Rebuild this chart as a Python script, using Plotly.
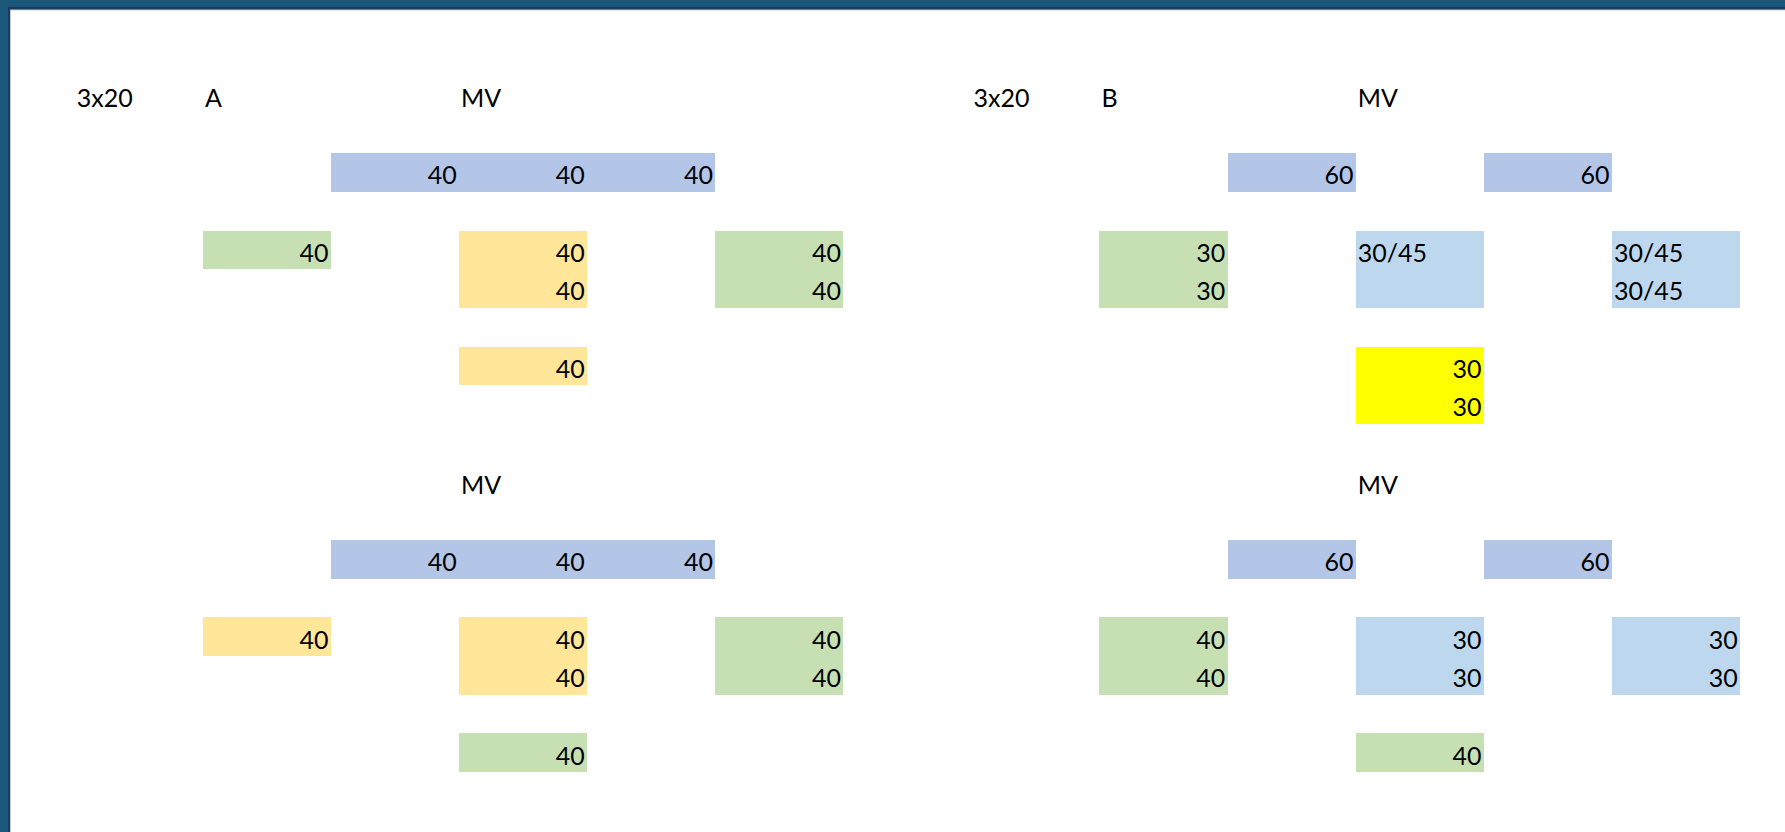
import plotly.graph_objects as go

# ---------------- data (grid of a spreadsheet: column index, row index) ----------------
# filled blocks: column, row, number of columns, number of rows, fill kind
fill_col   = [2, 1, 3, 5, 3,   2, 1, 3, 5, 3,   9, 11, 8, 10, 12, 10,   9, 11, 8, 10, 12, 10]
fill_row   = [4, 6, 6, 6, 9,  14, 16, 16, 16, 19,  4, 4, 6, 6, 6, 9,   14, 14, 16, 16, 16, 19]
fill_ncols = [3, 1, 1, 1, 1,   3, 1, 1, 1, 1,   1, 1, 1, 1, 1, 1,   1, 1, 1, 1, 1, 1]
fill_nrows = [1, 1, 2, 2, 1,   1, 1, 2, 2, 1,   1, 1, 2, 2, 2, 2,   1, 1, 2, 2, 2, 1]
fill_kind  = ["blue", "green", "yellow", "green", "yellow",
              "blue", "yellow", "yellow", "green", "green",
              "blue", "blue", "green", "lightblue", "lightblue", "brightyellow",
              "blue", "blue", "green", "lightblue", "lightblue", "green"]

# header labels (left aligned text)
label_col  = [0, 1, 3, 3, 7, 8, 10, 10, 10, 12, 12]
label_row  = [2, 2, 2, 12, 2, 2, 2, 12, 6, 6, 7]
label_text = ["3x20", "A", "MV", "MV", "3x20", "B", "MV", "MV", "30/45", "30/45", "30/45"]

# numeric values (right aligned)
value_col = [2, 3, 4, 1, 3, 3, 5, 5, 3,
             2, 3, 4, 1, 3, 3, 5, 5, 3,
             9, 11, 8, 8, 10, 10,
             9, 11, 8, 8, 10, 10, 12, 12, 10]
value_row = [4, 4, 4, 6, 6, 7, 6, 7, 9,
             14, 14, 14, 16, 16, 17, 16, 17, 19,
             4, 4, 6, 7, 9, 10,
             14, 14, 16, 17, 16, 17, 16, 17, 19]
values    = [40, 40, 40, 40, 40, 40, 40, 40, 40,
             40, 40, 40, 40, 40, 40, 40, 40, 40,
             60, 60, 30, 30, 30, 30,
             60, 60, 40, 40, 30, 30, 30, 30, 40]

# ---------------- styles ----------------
COLORS = {
    "blue": "#B4C6E7",
    "green": "#C6E0B4",
    "yellow": "#FFE699",
    "brightyellow": "#FFFF00",
    "lightblue": "#BDD7EE",
}
FONT = dict(family="Lato, Carlito, 'Open Sans', sans-serif", size=25, color="#000000")

W, H = 1785, 832
COL_W = 128.1          # px per spreadsheet column
ROW_H = 38.67          # px per spreadsheet row
X0_PX = 74.6           # px of column 0 left edge
Y0_PX = -1.4           # px of row 0 top edge

x_range = [-X0_PX / COL_W, (W - X0_PX) / COL_W]
y_range = [(H - Y0_PX) / ROW_H, -Y0_PX / ROW_H]   # reversed (rows grow downward)

PAD_X = 2.2 / COL_W
TEXT_DY = 0.645

fig = go.Figure()

# filled cells, one trace per fill kind
for kind, color in COLORS.items():
    idx = [i for i, k in enumerate(fill_kind) if k == kind]
    if not idx:
        continue
    fig.add_trace(go.Bar(
        x=[fill_col[i] + fill_ncols[i] / 2 for i in idx],
        y=[fill_nrows[i] for i in idx],
        base=[fill_row[i] for i in idx],
        width=[fill_ncols[i] for i in idx],
        marker=dict(color=color, line=dict(width=0)),
        hoverinfo="skip",
        showlegend=False,
    ))

# left aligned labels
fig.add_trace(go.Scatter(
    x=[c + PAD_X for c in label_col],
    y=[r + TEXT_DY for r in label_row],
    text=label_text,
    mode="text",
    textposition="middle right",
    textfont=FONT,
    hoverinfo="skip",
    showlegend=False,
))

# right aligned numbers
fig.add_trace(go.Scatter(
    x=[c + 1 - PAD_X for c in value_col],
    y=[r + TEXT_DY for r in value_row],
    text=[str(v) for v in values],
    mode="text",
    textposition="middle left",
    textfont=FONT,
    hoverinfo="skip",
    showlegend=False,
))

# window frame (top and left)
def px_rect(x0, y0, x1, y1, color):
    fig.add_shape(type="rect", xref="paper", yref="paper",
                  x0=x0 / W, x1=x1 / W, y0=1 - y1 / H, y1=1 - y0 / H,
                  fillcolor=color, line=dict(width=0), layer="above")

px_rect(0, 0, W, 10.5, "#C3CAD8")
px_rect(0, 0, 11, H, "#C3CAD8")
px_rect(0, 0, W, 9.5, "#1B3A5E")
px_rect(0, 0, 10, H, "#1B3A5E")
px_rect(0, 0, W, 7, "#1B587C")
px_rect(0, 0, 8, H, "#1B587C")

fig.update_layout(
    width=W, height=H,
    margin=dict(l=0, r=0, t=0, b=0),
    paper_bgcolor="#FFFFFF",
    plot_bgcolor="#FFFFFF",
    barmode="overlay",
    bargap=0,
    xaxis=dict(range=x_range, visible=False, fixedrange=True),
    yaxis=dict(range=y_range, visible=False, fixedrange=True),
)

fig.write_html(
    "out.html",
    config={"displayModeBar": False},
    post_script="document.body.style.margin='0';document.body.style.overflow='hidden';",
)
